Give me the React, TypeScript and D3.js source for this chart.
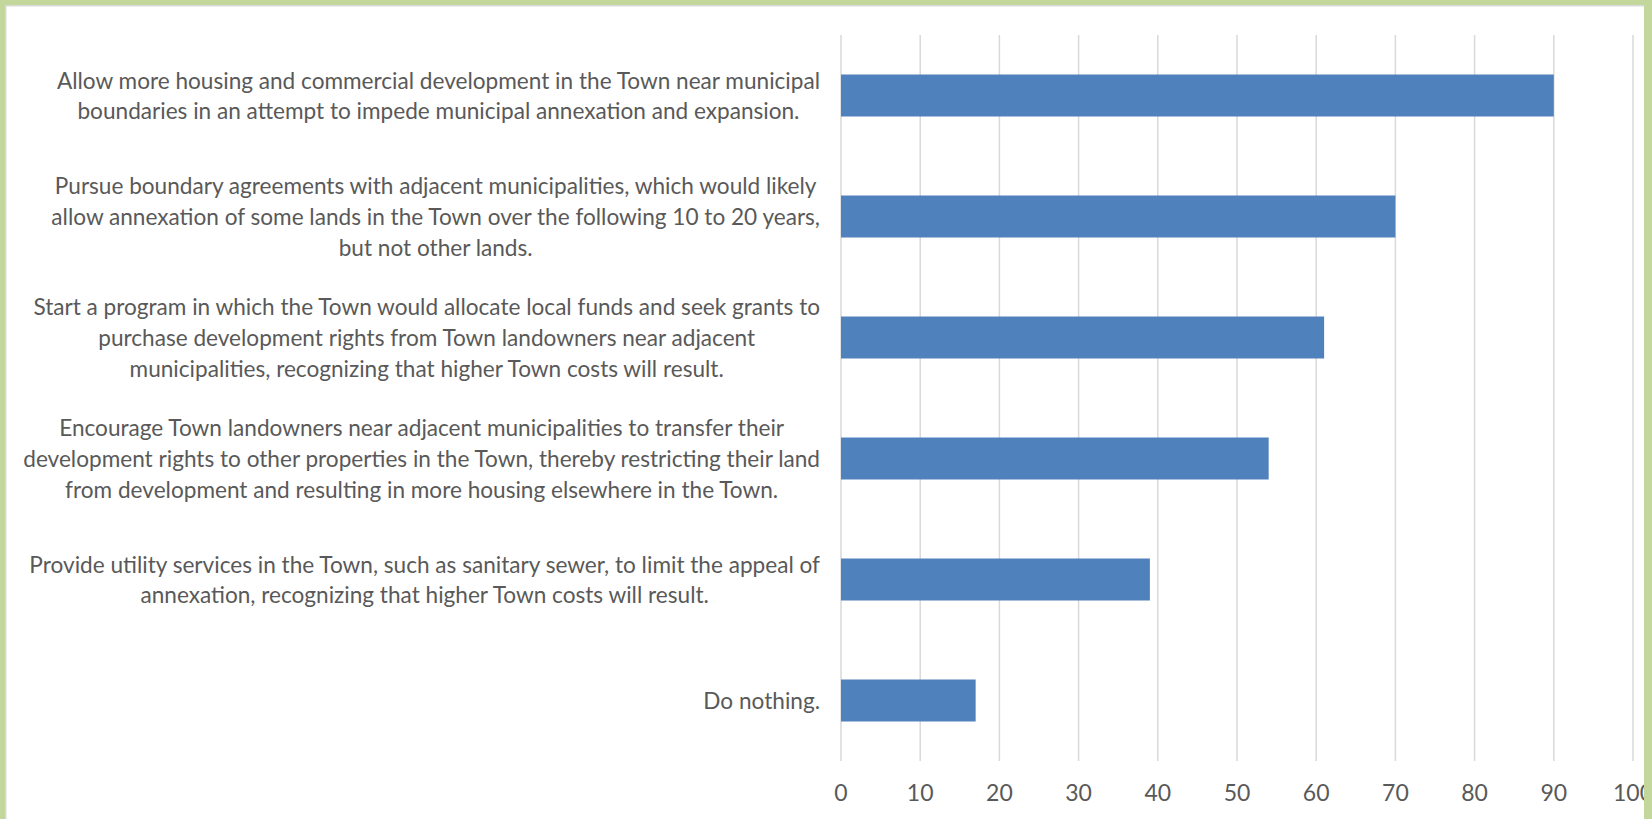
import React, { useEffect, useRef } from "react";
import * as d3 from "d3";

const categories: string[][] = [
  [
    "Allow more housing and commercial development in the Town near municipal",
    "boundaries in an attempt to impede municipal annexation and expansion.",
  ],
  [
    "Pursue boundary agreements with adjacent municipalities, which would likely",
    "allow annexation of some lands in the Town over the following 10 to 20 years,",
    "but not other lands.",
  ],
  [
    "Start a program in which the Town would allocate local funds and seek grants to",
    "purchase development rights from Town landowners near adjacent",
    "municipalities, recognizing that higher Town costs will result.",
  ],
  [
    "Encourage Town landowners near adjacent municipalities to transfer their",
    "development rights to other properties in the Town, thereby restricting their land",
    "from development and resulting in more housing elsewhere in the Town.",
  ],
  [
    "Provide utility services in the Town, such as sanitary sewer, to limit the appeal of",
    "annexation, recognizing that higher Town costs will result.",
  ],
  ["Do nothing."],
];

const values: number[] = [90, 70, 61, 54, 39, 17];
const tickValues: number[] = [0, 10, 20, 30, 40, 50, 60, 70, 80, 90, 100];

const W = 1652;
const H = 819;
const FONT = "Lato, 'Open Sans', sans-serif";
const TEXT_COLOR = "#595959";

export default function App() {
  const ref = useRef<SVGSVGElement>(null);

  useEffect(() => {
    const svg = d3.select(ref.current);
    svg.selectAll("*").remove();

    svg.append("rect").attr("width", W).attr("height", H).attr("fill", "#ffffff");

    const x = d3.scaleLinear().domain([0, 100]).range([841, 1633]);
    const y = d3
      .scaleBand<string>()
      .domain(categories.map((_, i) => String(i)))
      .range([35, 761])
      .paddingInner(0.653)
      .paddingOuter(0.3265);

    // gridlines
    svg
      .append("g")
      .selectAll("line")
      .data(tickValues)
      .join("line")
      .attr("x1", (d) => x(d))
      .attr("x2", (d) => x(d))
      .attr("y1", 35)
      .attr("y2", 761)
      .attr("stroke", "#d9d9d9")
      .attr("stroke-width", 1.5);

    // bars
    svg
      .append("g")
      .selectAll("rect")
      .data(values)
      .join("rect")
      .attr("x", x(0))
      .attr("y", (_, i) => y(String(i))!)
      .attr("width", (d) => x(d) - x(0))
      .attr("height", y.bandwidth())
      .attr("fill", "#4f81bd");

    // tick labels
    svg
      .append("g")
      .selectAll("text")
      .data(tickValues)
      .join("text")
      .attr("x", (d) => x(d))
      .attr("y", 792)
      .attr("text-anchor", "middle")
      .attr("dominant-baseline", "central")
      .attr("font-family", FONT)
      .attr("font-size", 23)
      .attr("fill", TEXT_COLOR)
      .text((d) => String(d));

    // category labels
    const lineH = 30.6;
    const rightEdge = 820;
    const lg = svg.append("g");
    categories.forEach((lines, i) => {
      const cy = y(String(i))! + y.bandwidth() / 2;
      const g = lg.append("g");
      const texts = lines.map((ln, j) =>
        g
          .append("text")
          .attr("y", cy + (j - (lines.length - 1) / 2) * lineH)
          .attr("text-anchor", "middle")
          .attr("dominant-baseline", "central")
          .attr("font-family", FONT)
          .attr("font-size", 22.6)
          .attr("fill", TEXT_COLOR)
          .text(ln)
      );
      const maxW = d3.max(texts, (t) => (t.node() as SVGTextElement).getComputedTextLength()) || 0;
      texts.forEach((t) => t.attr("x", rightEdge - maxW / 2));
    });

    // frame
    svg
      .append("path")
      .attr("d", `M5.75,${H} V5.75 H1644`)
      .attr("fill", "none")
      .attr("stroke", "#d9d9d9")
      .attr("stroke-width", 1.5);
    const green = "#c3d69b";
    svg.append("rect").attr("x", 0).attr("y", 0).attr("width", 5).attr("height", H).attr("fill", green);
    svg.append("rect").attr("x", 0).attr("y", 0).attr("width", W).attr("height", 5).attr("fill", green);
    svg.append("rect").attr("x", 1644).attr("y", 0).attr("width", W - 1644).attr("height", H).attr("fill", green);
  }, []);

  return (
    <svg
      ref={ref}
      width={W}
      height={H}
      style={{ position: "absolute", left: 0, top: 0, display: "block" }}
    />
  );
}
